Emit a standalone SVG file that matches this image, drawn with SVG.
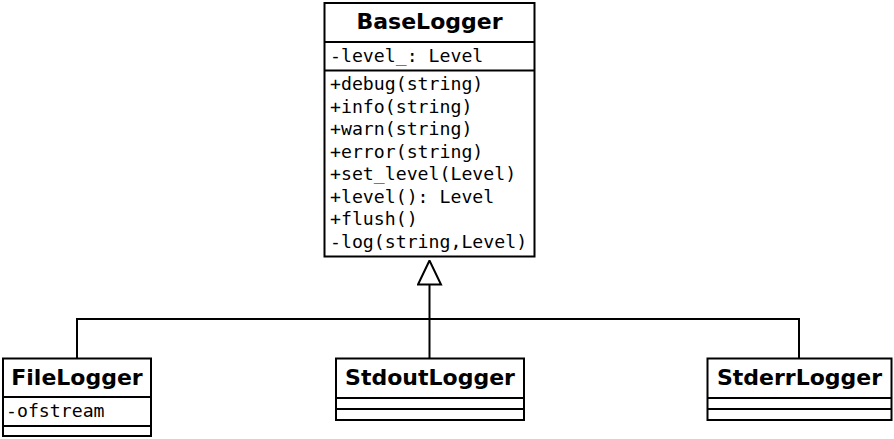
<svg xmlns="http://www.w3.org/2000/svg" width="894" height="439" viewBox="0 0 894 439">
  <style>
    .box { fill: #ffffff; stroke: #000000; stroke-width: 2; }
    .sep { stroke: #000000; stroke-width: 2; fill: none; }
    .title { font-family: "DejaVu Sans", "Liberation Sans", sans-serif; font-weight: bold; font-size: 22px; fill: #000000; text-anchor: middle; }
    .member { font-family: "DejaVu Sans Mono", "Liberation Mono", monospace; font-size: 18.2px; fill: #000000; }
    .edge { stroke: #000000; stroke-width: 2; fill: none; }
  </style>
  <defs>
    <marker id="inherit" viewBox="0 0 26 26" refX="1" refY="13" markerWidth="26" markerHeight="26" markerUnits="userSpaceOnUse" orient="auto">
      <path d="M25,13 L1,1.5 L1,24.5 Z" fill="#ffffff" stroke="#000000" stroke-width="2" stroke-linejoin="miter"/>
    </marker>
  </defs>
  <rect width="894" height="439" fill="#ffffff"/>

  <!-- inheritance connectors -->
  <g id="connectors">
    <path class="edge" d="M77,358 V319 H799 V358"/>
    <path class="edge" d="M429.5,358 V284.5" marker-end="url(#inherit)"/>
  </g>

  <!-- base class -->
  <g id="BaseLogger">
    <rect class="box" x="324.5" y="3" width="210" height="253.5"/>
    <line class="sep" x1="324.5" y1="42" x2="534.5" y2="42"/>
    <line class="sep" x1="324.5" y1="70.5" x2="534.5" y2="70.5" stroke-width="2.5"/>
    <text class="title" x="429.5" y="29">BaseLogger</text>
    <text class="member" x="330" y="62">-level_: Level</text>
    <text class="member" x="330" y="90">+debug(string)</text>
    <text class="member" x="330" y="112.5">+info(string)</text>
    <text class="member" x="330" y="135">+warn(string)</text>
    <text class="member" x="330" y="157.5">+error(string)</text>
    <text class="member" x="330" y="180">+set_level(Level)</text>
    <text class="member" x="330" y="202.5">+level(): Level</text>
    <text class="member" x="330" y="225">+flush()</text>
    <text class="member" x="330" y="247.5">-log(string,Level)</text>
  </g>

  <!-- derived classes -->
  <g id="FileLogger">
    <rect class="box" x="3" y="358.5" width="148" height="77.5"/>
    <line class="sep" x1="3" y1="397" x2="151" y2="397"/>
    <line class="sep" x1="3" y1="426" x2="151" y2="426"/>
    <text class="title" x="77" y="385">FileLogger</text>
    <text class="member" x="6" y="417">-ofstream</text>
  </g>

  <g id="StdoutLogger">
    <rect class="box" x="336" y="358.5" width="188" height="61.5"/>
    <line class="sep" x1="336" y1="398" x2="524" y2="398"/>
    <line class="sep" x1="336" y1="409" x2="524" y2="409"/>
    <text class="title" x="430" y="385">StdoutLogger</text>
  </g>

  <g id="StderrLogger">
    <rect class="box" x="707.5" y="358.5" width="184" height="61.5"/>
    <line class="sep" x1="707.5" y1="398" x2="891.5" y2="398"/>
    <line class="sep" x1="707.5" y1="409" x2="891.5" y2="409"/>
    <text class="title" x="799.5" y="385">StderrLogger</text>
  </g>
</svg>
